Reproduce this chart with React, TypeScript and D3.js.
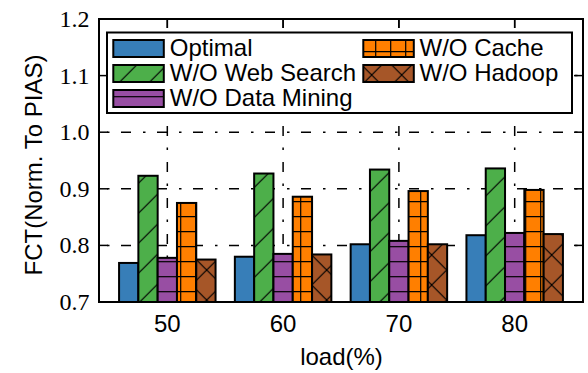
import React from "react";
import * as d3 from "d3";

const categories = ["50", "60", "70", "80"];
const seriesNames = ["Optimal", "W/O Web Search", "W/O Data Mining", "W/O Cache", "W/O Hadoop"];
const optimal = [0.769, 0.78, 0.802, 0.818];
const webSearch = [0.923, 0.927, 0.934, 0.936];
const dataMining = [0.778, 0.785, 0.808, 0.822];
const cache = [0.875, 0.886, 0.896, 0.898];
const hadoop = [0.775, 0.784, 0.802, 0.82];
const yTicks = [0.7, 0.8, 0.9, 1.0, 1.1, 1.2];
const gridTicks = [0.8, 0.9, 1.0, 1.1];

const seriesValues = [optimal, webSearch, dataMining, cache, hadoop];
const colors = ["#377eb8", "#4daf4a", "#984ea3", "#ff7f00", "#a65628"];
const fills = ["#377eb8", "url(#h-slash)", "url(#h-dash)", "url(#h-plus)", "url(#h-x)"];

const W = 588, H = 373;
const L = 99, R = 583, T = 19, B = 302;

export default function App() {
  const x = d3.scaleLinear().domain([-0.59, 3.59]).range([L, R]);
  const y = d3.scaleLinear().domain([0.7, 1.2]).range([B, T]);
  const bw = 1 / 6;
  const sans = "'Liberation Sans', Arial, sans-serif";
  const serif = "'Liberation Serif', 'Times New Roman', serif";
  const dash = "10,12,2.5,11.5";

  const legendRows = [
    { i: 0, col: 0, row: 0 },
    { i: 1, col: 0, row: 1 },
    { i: 2, col: 0, row: 2 },
    { i: 3, col: 1, row: 0 },
    { i: 4, col: 1, row: 1 },
  ];
  const colX = [113.3, 363.3];
  const textX = [169.8, 419.5];
  const rowBase = [56, 81, 106];

  return (
    <svg width={W} height={H} style={{ position: "absolute", left: 0, top: 0, background: "#fff" }}>
      <defs>
        <pattern id="h-slash" patternUnits="userSpaceOnUse" width={30} height={30} patternTransform="translate(21.7,0)">
          <rect x={0} y={0} width={30} height={30} fill={colors[1]} />
          <path d="M-5,35 L35,-5 M-5,5 L5,-5 M25,35 L35,25" stroke="#000" strokeWidth={1.2} />
        </pattern>
        <pattern id="h-dash" patternUnits="userSpaceOnUse" width={15} height={15}>
          <rect x={0} y={0} width={15} height={15} fill={colors[2]} />
          <path d="M-1,6.7 L16,6.7" stroke="#000" strokeWidth={1.2} />
        </pattern>
        <pattern id="h-plus" patternUnits="userSpaceOnUse" width={15} height={15}>
          <rect x={0} y={0} width={15} height={15} fill={colors[3]} />
          <path d="M-1,6.7 L16,6.7 M0.7,-1 L0.7,16" stroke="#000" strokeWidth={1.2} />
        </pattern>
        <pattern id="h-x" patternUnits="userSpaceOnUse" width={30} height={30} patternTransform="translate(26.7,0)">
          <rect x={0} y={0} width={30} height={30} fill={colors[4]} />
          <path d="M-5,35 L35,-5 M-5,5 L5,-5 M25,35 L35,25 M-5,-5 L35,35 M25,-5 L35,5 M-5,25 L5,35" stroke="#000" strokeWidth={1.2} />
        </pattern>
      </defs>

      {/* grid */}
      {gridTicks.map((t) => (
        <line key={"gh" + t} x1={L} x2={R} y1={y(t)} y2={y(t)} stroke="#000" strokeWidth={1.5} strokeDasharray={dash} strokeDashoffset={14} />
      ))}
      {categories.map((c, i) => (
        <line key={"gv" + c} x1={x(i)} x2={x(i)} y1={B} y2={T} stroke="#000" strokeWidth={1.5} strokeDasharray={dash} strokeDashoffset={14} />
      ))}

      {/* bars */}
      {seriesValues.map((vals, s) =>
        vals.map((v, i) => {
          const x0 = x(i + (s - 2.5) * bw);
          const x1 = x(i + (s - 1.5) * bw);
          return (
            <rect key={s + "-" + i} x={x0} y={y(v)} width={x1 - x0} height={y(0.7) - y(v)} fill={fills[s]} stroke="#000" strokeWidth={2} />
          );
        })
      )}

      {/* ticks */}
      {yTicks.map((t) => (
        <g key={"yt" + t}>
          <line x1={L} x2={L + 9} y1={y(t)} y2={y(t)} stroke="#000" strokeWidth={1.5} />
          <line x1={R} x2={R - 9} y1={y(t)} y2={y(t)} stroke="#000" strokeWidth={1.5} />
          <text x={89.5} y={y(t) + 8} textAnchor="end" fontFamily={serif} fontSize={24} fill="#000">
            {t.toFixed(1)}
          </text>
        </g>
      ))}
      {categories.map((c, i) => (
        <g key={"xt" + c}>
          <line x1={x(i)} x2={x(i)} y1={T} y2={T + 9} stroke="#000" strokeWidth={1.5} />
          <text x={x(i)} y={331.5} textAnchor="middle" fontFamily={sans} fontSize={24} fill="#000">
            {c}
          </text>
        </g>
      ))}

      {/* legend */}
      <rect x={107} y={32.5} width={465} height={80.5} fill="#fff" stroke="#000" strokeWidth={2} />
      {legendRows.map(({ i, col, row }) => (
        <g key={"lg" + i}>
          <rect x={colX[col]} y={rowBase[row] - 16} width={50.5} height={17} fill={fills[i]} stroke="#000" strokeWidth={2} />
          <text x={textX[col]} y={rowBase[row]} fontFamily={sans} fontSize={24} fill="#000">
            {seriesNames[i]}
          </text>
        </g>
      ))}

      {/* frame */}
      <rect x={L} y={T} width={R - L} height={B - T} fill="none" stroke="#000" strokeWidth={2} />

      {/* axis labels */}
      <text x={(L + R) / 2 + 0.5} y={364.5} textAnchor="middle" fontFamily={sans} fontSize={24} fill="#000">
        load(%)
      </text>
      <text transform="translate(41.5,165) rotate(-90)" textAnchor="middle" fontFamily={sans} fontSize={24} fill="#000">
        FCT(Norm. To PIAS)
      </text>
    </svg>
  );
}
